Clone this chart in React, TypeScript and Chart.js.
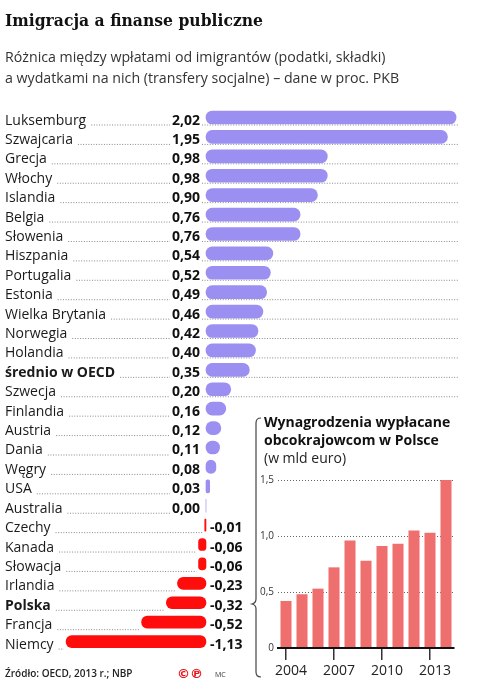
import React, { useEffect, useRef } from 'react';
import { Chart, registerables } from 'chart.js';

Chart.register(...registerables);

// ---- data ----
const countries = [
  'Luksemburg', 'Szwajcaria', 'Grecja', 'Włochy', 'Islandia', 'Belgia', 'Słowenia',
  'Hiszpania', 'Portugalia', 'Estonia', 'Wielka Brytania', 'Norwegia', 'Holandia',
  'średnio w OECD', 'Szwecja', 'Finlandia', 'Austria', 'Dania', 'Węgry', 'USA',
  'Australia', 'Czechy', 'Kanada', 'Słowacja', 'Irlandia', 'Polska', 'Francja', 'Niemcy',
];
const values = [
  2.02, 1.95, 0.98, 0.98, 0.9, 0.76, 0.76,
  0.54, 0.52, 0.49, 0.46, 0.42, 0.4,
  0.35, 0.2, 0.16, 0.12, 0.11, 0.08, 0.03,
  0.0, -0.01, -0.06, -0.06, -0.23, -0.32, -0.52, -1.13,
];
const boldRows = ['średnio w OECD', 'Polska'];
const trailingDotRows = ['Luksemburg', 'Szwajcaria', 'Grecja', 'Włochy', 'Islandia', 'Belgia', 'Słowenia',
  'Hiszpania', 'Portugalia', 'Estonia', 'Wielka Brytania', 'Norwegia', 'Holandia', 'średnio w OECD', 'Szwecja'];

const years = ['2004', '2005', '2006', '2007', '2008', '2009', '2010', '2011', '2012', '2013', '2014'];
const wages = [0.42, 0.48, 0.53, 0.72, 0.96, 0.78, 0.91, 0.93, 1.05, 1.03, 1.5];
const shownYears = ['2004', '2007', '2010', '2013'];

const title = 'Imigracja a finanse publiczne';
const subtitle = [
  'Różnica między wpłatami od imigrantów (podatki, składki)',
  'a wydatkami na nich (transfery socjalne) – dane w proc. PKB',
];
const insetTitle = ['Wynagrodzenia wypłacane', 'obcokrajowcom w Polsce'];
const insetUnit = '(w mld euro)';
const source = 'Źródło: OECD, 2013 r.; NBP';

const FONT = '"Open Sans", "Noto Sans", sans-serif';
const PURPLE = '#9b90f2';
const RED = '#ff0d0d';
const SALMON = '#ef6f6f';

const fmt = (v: number) => v.toFixed(2).replace('.', ',');

function dotted(ctx: CanvasRenderingContext2D, x1: number, x2: number, y: number) {
  if (x2 <= x1) return;
  ctx.save();
  ctx.strokeStyle = '#888';
  ctx.lineWidth = 1;
  ctx.setLineDash([1, 1.6]);
  ctx.beginPath();
  ctx.moveTo(x1, y);
  ctx.lineTo(x2, y);
  ctx.stroke();
  ctx.restore();
}

const rowsPlugin = {
  id: 'rowsPlugin',
  beforeDatasetsDraw(chart: any) {
    const ctx: CanvasRenderingContext2D = chart.ctx;
    const xs = chart.scales.x;
    const ys = chart.scales.y;
    const zero = xs.getPixelForValue(0);
    ctx.save();
    countries.forEach((name, i) => {
      const yc = ys.getPixelForValue(i);
      const base = yc + 7;
      const v = values[i];
      const bold = boldRows.includes(name);
      ctx.font = `${bold ? 'bold ' : ''}14px ${FONT}`;
      ctx.fillStyle = '#1a1a1a';
      ctx.textAlign = 'left';
      ctx.textBaseline = 'alphabetic';
      ctx.fillText(name, 5, base);
      const lw = ctx.measureText(name).width;
      ctx.font = `bold 14px ${FONT}`;
      const txt = fmt(v);
      const vw = ctx.measureText(txt).width;
      if (v >= 0) {
        const right = zero - 6;
        ctx.textAlign = 'right';
        ctx.fillStyle = '#111';
        ctx.fillText(txt, right, base);
        dotted(ctx, 5 + lw + 5, right - vw - 2, base + 0.5);
        if (trailingDotRows.includes(name)) {
          dotted(ctx, right + 2, xs.right - 1, base + 0.5);
        }
      } else {
        const barStart = xs.getPixelForValue(v);
        dotted(ctx, 5 + lw + 5, barStart - 2, base + 0.5);
        ctx.textAlign = 'left';
        ctx.fillStyle = '#111';
        ctx.fillText(txt, zero + 4, base);
      }
    });
    ctx.restore();
  },
  afterDraw(chart: any) {
    const ctx: CanvasRenderingContext2D = chart.ctx;
    ctx.save();
    ctx.textAlign = 'left';
    ctx.textBaseline = 'alphabetic';
    // title (slab-like serif, fitted to the reference width)
    ctx.fillStyle = '#111';
    ctx.font = 'bold 17px "DejaVu Serif", "Liberation Serif", serif';
    const tw = ctx.measureText(title).width;
    const sx = 258 / tw;
    ctx.save();
    ctx.translate(5, 26);
    ctx.scale(sx, 1);
    ctx.fillText(title, 0, 0);
    ctx.restore();
    // subtitle
    ctx.fillStyle = '#333';
    ctx.font = `14.2px ${FONT}`;
    ctx.fillText(subtitle[0], 5, 62);
    ctx.fillText(subtitle[1], 5, 83);
    // inset title
    ctx.fillStyle = '#111';
    ctx.font = `bold 14px ${FONT}`;
    ctx.fillText(insetTitle[0], 264, 427);
    ctx.fillText(insetTitle[1], 264, 445);
    ctx.fillStyle = '#222';
    ctx.font = `14px ${FONT}`;
    ctx.fillText(insetUnit, 264, 463);
    // bracket
    ctx.strokeStyle = '#444';
    ctx.lineWidth = 1.2;
    ctx.beginPath();
    ctx.moveTo(261, 418);
    ctx.quadraticCurveTo(256, 418, 256, 423);
    ctx.lineTo(256, 599);
    ctx.quadraticCurveTo(256, 603, 252, 604);
    ctx.quadraticCurveTo(256, 605, 256, 609);
    ctx.lineTo(256, 672);
    ctx.quadraticCurveTo(256, 677, 261, 677);
    ctx.stroke();
    // footer
    ctx.fillStyle = '#222';
    ctx.font = `600 10px ${FONT}`;
    ctx.fillText(source, 5, 677);
    ctx.fillStyle = '#e8141a';
    ctx.font = `bold 13px "DejaVu Sans", sans-serif`;
    ctx.fillText('©℗', 177, 678);
    ctx.fillStyle = '#333';
    ctx.font = `7px ${FONT}`;
    ctx.fillText('MC', 215, 677);
    ctx.restore();
  },
};

export default function App() {
  const mainRef = useRef<HTMLCanvasElement>(null);
  const insetRef = useRef<HTMLCanvasElement>(null);

  useEffect(() => {
    const posData = values.map((v) => (v >= 0 ? v : null));
    const negData = values.map((v) => (v < 0 ? v : null));
    const main = new Chart(mainRef.current!, {
      type: 'bar',
      data: {
        labels: countries,
        datasets: [
          {
            data: posData as any,
            backgroundColor: PURPLE,
            borderRadius: 8,
            borderSkipped: false,
            barThickness: 13,
            grouped: false,
          },
          {
            data: negData as any,
            backgroundColor: RED,
            borderRadius: 8,
            borderSkipped: false,
            barThickness: 12,
            grouped: false,
          },
        ],
      },
      options: {
        responsive: false,
        animation: false,
        indexAxis: 'y',
        layout: { padding: { left: 57.4, right: 18.2, top: 107.8, bottom: 36.7 } },
        plugins: { legend: { display: false }, tooltip: { enabled: false } },
        scales: {
          x: { type: 'linear', min: -1.2, max: 2.05, display: false },
          y: { type: 'category', display: false },
        },
      },
      plugins: [rowsPlugin],
    });

    const inset = new Chart(insetRef.current!, {
      type: 'bar',
      data: {
        labels: years,
        datasets: [
          {
            data: wages,
            backgroundColor: SALMON,
            barPercentage: 0.69,
            categoryPercentage: 1,
          },
        ],
      },
      options: {
        responsive: false,
        animation: false,
        layout: { padding: { top: 9, right: 24, left: 0, bottom: 0 } },
        plugins: { legend: { display: false }, tooltip: { enabled: false } },
        scales: {
          x: {
            type: 'category',
            afterFit: (s: any) => { s.height = 40; },
            grid: {
              offset: false,
              drawOnChartArea: false,
              drawTicks: true,
              tickLength: 12,
              lineWidth: 1.5,
              color: (c: any) => (shownYears.includes(years[c.index]) ? '#333' : 'rgba(0,0,0,0)'),
            },
            border: { display: true, color: '#111', width: 2, z: 1 },
            ticks: {
              autoSkip: false,
              maxRotation: 0,
              padding: 3,
              labelOffset: 5,
              color: '#222',
              font: { family: FONT, size: 14 },
              callback: (_v: any, i: number) => (shownYears.includes(years[i]) ? years[i] : ''),
            },
          },
          y: {
            min: 0,
            max: 1.5,
            afterFit: (s: any) => { s.width = 23; },
            border: { display: false, dash: [1, 2] },
            grid: { color: '#666', lineWidth: 1, drawTicks: false },
            ticks: {
              stepSize: 0.5,
              padding: 4,
              color: '#333',
              font: { family: FONT, size: 10 },
              callback: (v: any) => (Number(v) === 0 ? '0' : Number(v).toFixed(1).replace('.', ',')),
            },
          },
        },
      },
    });

    return () => {
      main.destroy();
      inset.destroy();
    };
  }, []);

  return (
    <div style={{ position: 'absolute', left: 0, top: 0, width: 478, height: 688, background: '#fff' }}>
      <canvas ref={mainRef} width={478} height={688} style={{ position: 'absolute', left: 0, top: 0 }} />
      <canvas ref={insetRef} width={223} height={218} style={{ position: 'absolute', left: 255, top: 470 }} />
    </div>
  );
}
